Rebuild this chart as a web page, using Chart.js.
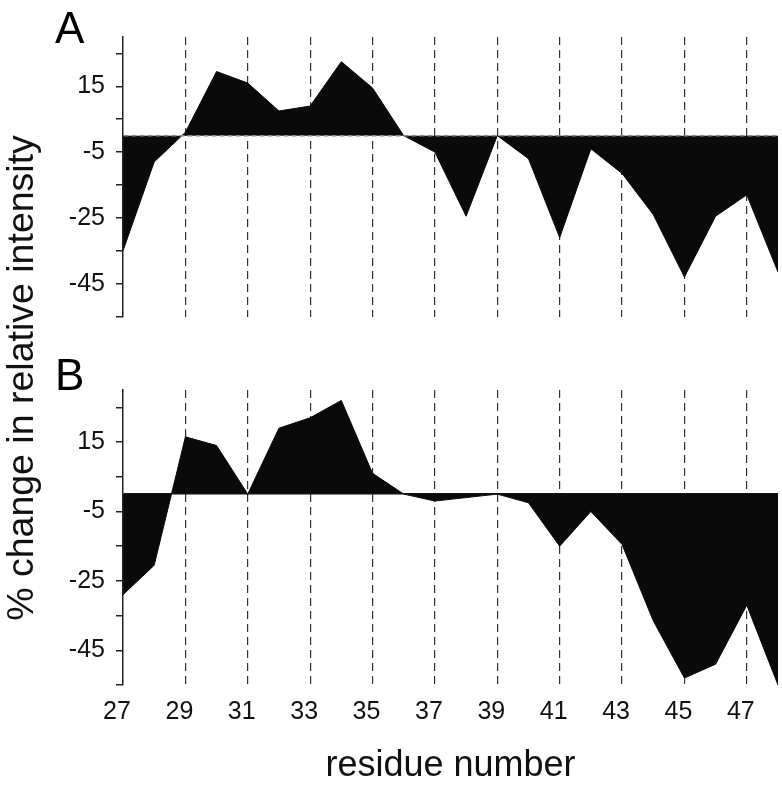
<!DOCTYPE html>
<html>
<head>
<meta charset="utf-8">
<script src="https://cdn.jsdelivr.net/npm/chart.js@4.4.1/dist/chart.umd.min.js"></script>
<style>
    body { margin: 0; background: #fff; width: 782px; height: 788px; position: relative; overflow: hidden; font-family: "Liberation Sans", Arial, sans-serif; }
    .panel { position: absolute; left: 0; width: 782px; }
    #wrapA { top: 0; height: 340px; }
    #wrapB { top: 340px; height: 448px; }
    .letter { position: absolute; font-size: 44px; line-height: 44px; color: #000; }
    #yTitle { position: absolute; width: 600px; height: 44px; line-height: 44px; left: -280px; top: 356px; text-align: center; font-size: 37.5px; color: #111; transform: rotate(-90deg); white-space: nowrap; }
</style>
</head>
<body>
<div class="panel" id="wrapA"><canvas id="chartA" width="782" height="340"></canvas></div>
<div class="panel" id="wrapB"><canvas id="chartB" width="782" height="448"></canvas></div>
<div class="letter" style="left:55px; top:6px;">A</div>
<div class="letter" style="left:55px; top:353px;">B</div>
<div id="yTitle">% change in relative intensity</div>
<script>
// residue numbers along x
const residues = [27, 28, 29, 30, 31, 32, 33, 34, 35, 36, 37, 38, 39, 40, 41, 42, 43, 44, 45, 46, 47, 48];
// % change in relative intensity, panel A and panel B
const changeA = [-35, -8, 1, 19.5, 16, 7.5, 9, 22.5, 14.5, 0, -5, -24.5, 0, -7, -31, -4, -11.5, -24, -43, -24.5, -18, -41.5];
const changeB = [-29, -20.5, 16.5, 14, 0, 19, 22, 27, 6, 0, -2, -1, 0, -2.5, -15, -5, -14.5, -36.5, -53, -49, -32, -55];
// axis ticks
const xTicks = [27, 29, 31, 33, 35, 37, 39, 41, 43, 45, 47];
const yTicks = [-55, -45, -35, -25, -15, -5, 0, 5, 15, 25];
const yLabels = [15, -5, -25, -45];

const FONT = '"Liberation Sans", Arial, sans-serif';

function makePanel(id, values, opts) {
    const ctx = document.getElementById(id);
    return new Chart(ctx, {
        type: 'line',
        data: {
            labels: residues,
            datasets: [{
                data: residues.map((r, i) => ({ x: r, y: values[i] })),
                borderColor: '#0a0a0a',
                backgroundColor: '#0a0a0a',
                borderWidth: 1,
                pointRadius: 0,
                tension: 0,
                fill: 'origin'
            }]
        },
        options: {
            responsive: false,
            animation: false,
            events: [],
            layout: { padding: { top: opts.top, bottom: opts.bottom, left: 0, right: 4 } },
            plugins: { legend: { display: false }, tooltip: { enabled: false } },
            scales: {
                x: {
                    type: 'linear',
                    min: 27,
                    max: 48,
                    afterBuildTicks: scale => { scale.ticks = xTicks.map(v => ({ value: v })); },
                    afterFit: scale => { scale.height = opts.xHeight; },
                    border: { display: false, dash: [8, 5] },
                    grid: {
                        drawTicks: false,
                        lineWidth: 1.2,
                        color: c => c.tick && c.tick.value === 27 ? 'rgba(0,0,0,0)' : '#333'
                    },
                    ticks: {
                        display: opts.showX,
                        padding: 12,
                        labelOffset: -6,
                        color: '#111',
                        font: { family: FONT, size: 25 }
                    },
                    title: {
                        display: opts.showX,
                        text: 'residue number',
                        color: '#111',
                        padding: { top: 0, bottom: 0 },
                        font: { family: FONT, size: 36 }
                    }
                },
                y: {
                    type: 'linear',
                    min: -55,
                    max: 30,
                    afterBuildTicks: scale => { scale.ticks = yTicks.map(v => ({ value: v })); },
                    afterFit: scale => { scale.width = 123; },
                    // zero line is drawn above the fill, so the axis line has to follow it
                    border: { display: true, z: 1, color: '#222', width: 1.5, dash: opts.zeroDash },
                    grid: {
                        z: 1,
                        drawOnChartArea: true,
                        lineWidth: 1.5,
                        color: c => c.tick && c.tick.value === 0 ? opts.zeroColor : 'rgba(0,0,0,0)',
                        tickColor: c => c.tick && c.tick.value === 0 ? 'rgba(0,0,0,0)' : '#222',
                        tickLength: 7,
                        tickWidth: 1.5
                    },
                    ticks: {
                        padding: 11,
                        color: '#111',
                        font: { family: FONT, size: 25, lineHeight: 1 },
                        callback: v => yLabels.includes(v) ? String(v) : ''
                    }
                }
            }
        }
    });
}

makePanel('chartA', changeA, { top: 37, bottom: 12, xHeight: 0, showX: false, zeroColor: '#888', zeroDash: [5, 3] });
makePanel('chartB', changeB, { top: 50, bottom: 0, xHeight: 103, showX: true, zeroColor: '#111', zeroDash: [] });
</script>
</body>
</html>
